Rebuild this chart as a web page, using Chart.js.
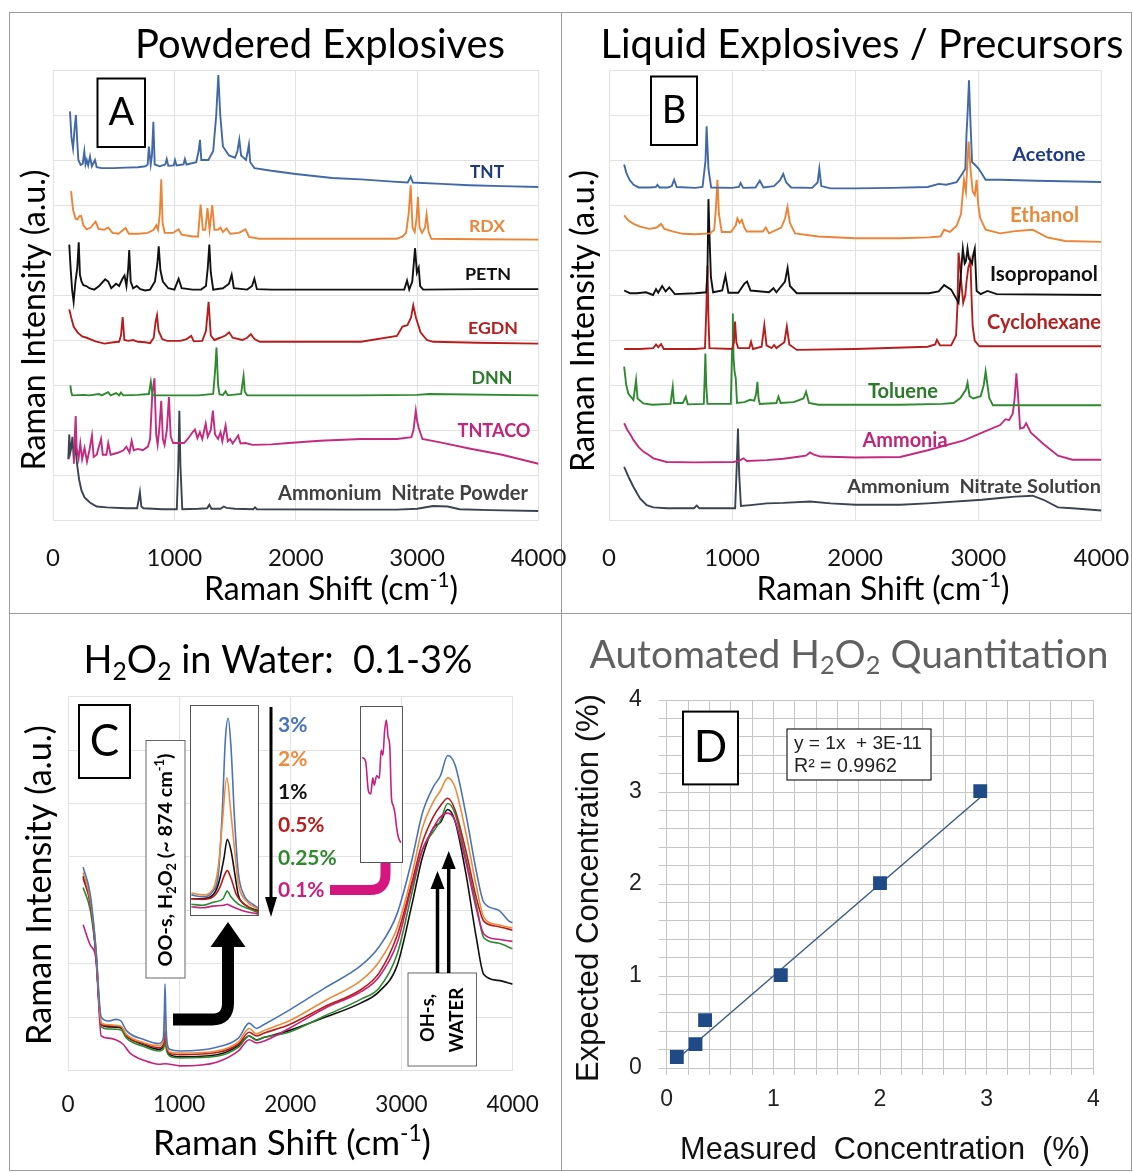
<!DOCTYPE html>
<html><head><meta charset="utf-8">
<script src="https://cdn.jsdelivr.net/npm/chart.js@4.4.0/dist/chart.umd.min.js"></script>
<style>
html,body{margin:0;padding:0;background:#fff;}
#wrap{position:relative;width:1133px;height:1173px;overflow:hidden;background:#fff;}
canvas{position:absolute;}
.ln{position:absolute;background:#9c9c9c;}
</style></head><body>
<div id="wrap">
<div class="ln" style="left:9px;top:12px;width:1123px;height:1px"></div>
<div class="ln" style="left:9px;top:1170px;width:1123px;height:1px"></div>
<div class="ln" style="left:9px;top:12px;width:1px;height:1159px"></div>
<div class="ln" style="left:1131px;top:12px;width:1px;height:1159px"></div>
<div class="ln" style="left:561px;top:12px;width:1px;height:1159px"></div>
<div class="ln" style="left:9px;top:613px;width:1123px;height:1px"></div>
<canvas id="cA" width="575" height="613" style="left:0px;top:0px"></canvas>
<canvas id="cB" width="573" height="613" style="left:560px;top:0px"></canvas>
<canvas id="cC" width="575" height="560" style="left:0px;top:613px"></canvas>
<canvas id="cD" width="573" height="560" style="left:560px;top:613px"></canvas>
<canvas id="cI1" width="69" height="211" style="left:190px;top:705px"></canvas>
<canvas id="cI2" width="43" height="157" style="left:360px;top:706px"></canvas>
</div>
<script>
// ---------------- DATA ----------------
// Panel A : powdered explosives (Raman shift cm-1, offset intensity a.u.)
const xTicksRaman = [0, 1000, 2000, 3000, 4000];
const TNT = [[140,9.08],[152,8.5],[165,8.26],[178,8.7],[189,9.0],[200,8.4],[209,8.0],[228,7.89],[245,7.92],[258,8.19],[268,7.9],[278,8.0],[290,7.88],[305,8.08],[320,7.86],[346,8.0],[360,7.84],[400,7.82],[500,7.82],[600,7.83],[700,7.84],[760,7.86],[780,7.9],[790,8.3],[805,7.9],[815,8.1],[827,8.85],[838,7.9],[880,7.86],[925,7.9],[937,8.02],[950,7.87],[995,7.88],[1005,8.0],[1018,7.88],[1075,7.9],[1087,8.02],[1100,7.9],[1180,7.95],[1200,8.2],[1211,8.45],[1222,8.0],[1280,8.0],[1320,8.2],[1345,9.0],[1362,9.89],[1378,9.0],[1400,8.3],[1450,8.1],[1500,8.05],[1520,8.2],[1535,8.45],[1550,8.1],[1590,8.0],[1605,8.2],[1614,8.34],[1625,7.95],[1660,7.82],[1800,7.76],[2000,7.69],[2300,7.6],[2537,7.57],[2800,7.52],[2923,7.5],[2947,7.63],[2965,7.5],[3200,7.47],[3429,7.44],[3700,7.42],[4000,7.40]];
const RDX = [[149,7.31],[165,6.9],[185,6.7],[202,6.68],[215,6.75],[232,6.76],[250,6.55],[277,6.46],[310,6.5],[351,6.63],[375,6.47],[420,6.45],[455,6.5],[490,6.38],[540,6.36],[598,6.49],[625,6.36],[700,6.36],[780,6.38],[830,6.45],[851,6.55],[865,6.45],[880,6.8],[892,7.57],[903,6.6],[920,6.38],[990,6.38],[1035,6.46],[1060,6.34],[1150,6.3],[1195,6.3],[1216,7.01],[1235,6.45],[1255,6.45],[1273,6.93],[1290,6.45],[1312,7.0],[1330,6.45],[1360,6.45],[1380,6.5],[1400,6.4],[1430,6.48],[1460,6.36],[1530,6.38],[1560,6.42],[1585,6.46],[1600,6.38],[1615,6.29],[1700,6.25],[1942,6.25],[2500,6.25],[2834,6.25],[2880,6.3],[2909,6.38],[2930,6.8],[2947,7.44],[2962,6.5],[2980,6.4],[2995,6.7],[3007,7.18],[3020,6.5],[3040,6.38],[3065,6.5],[3078,6.79],[3095,6.4],[3117,6.25],[3500,6.24],[4000,6.23]];
const PETN = [[134,6.12],[145,5.6],[158,5.1],[170,4.85],[185,5.3],[200,5.6],[212,6.17],[222,5.45],[235,5.3],[250,5.22],[275,5.2],[300,5.15],[340,5.12],[380,5.2],[430,5.35],[455,5.3],[480,5.15],[520,5.25],[545,5.2],[570,5.35],[589,5.43],[605,5.2],[620,5.6],[628,6.0],[640,5.3],[660,5.15],[690,5.2],[720,5.13],[760,5.1],[800,5.12],[840,5.3],[860,5.7],[871,6.08],[885,5.55],[905,5.3],[950,5.15],[1000,5.12],[1035,5.36],[1060,5.15],[1150,5.12],[1220,5.12],[1260,5.2],[1275,5.6],[1288,6.12],[1300,5.5],[1320,5.12],[1400,5.15],[1450,5.25],[1472,5.45],[1490,5.15],[1600,5.12],[1640,5.2],[1659,5.36],[1680,5.13],[1800,5.12],[2239,5.12],[2600,5.12],[2894,5.12],[2917,5.32],[2935,5.12],[2960,5.3],[2983,6.04],[2998,5.5],[3013,5.61],[3025,5.2],[3050,5.12],[3500,5.13],[4000,5.13]];
const EGDN = [[134,4.68],[150,4.5],[170,4.3],[202,4.17],[240,4.08],[277,4.05],[350,3.97],[425,3.92],[500,3.95],[544,3.96],[560,4.1],[574,4.51],[588,4.0],[620,3.98],[660,4.0],[700,3.96],[760,3.95],[800,3.93],[830,4.05],[845,4.4],[857,4.55],[870,4.2],[900,4.02],[940,3.98],[1000,3.98],[1050,3.98],[1100,4.02],[1139,4.09],[1160,3.97],[1230,3.98],[1260,4.2],[1282,4.85],[1300,4.1],[1330,4.0],[1377,4.05],[1420,4.1],[1451,4.17],[1480,4.05],[1560,4.0],[1600,4.05],[1630,4.13],[1660,4.02],[1704,3.96],[2000,3.96],[2537,3.96],[2834,4.09],[2879,4.3],[2920,4.33],[2950,4.5],[2968,4.77],[2990,4.5],[3028,4.17],[3080,4.0],[3132,3.96],[3500,3.94],[4000,3.92]];
const DNN = [[143,2.99],[150,2.85],[158,2.77],[250,2.78],[300,2.77],[380,2.8],[400,2.77],[455,2.84],[475,2.77],[520,2.82],[545,2.77],[560,2.83],[580,2.77],[700,2.78],[790,2.8],[806,3.07],[820,2.77],[1000,2.77],[1200,2.77],[1320,2.8],[1335,3.3],[1347,3.83],[1360,3.0],[1372,2.79],[1400,2.78],[1422,2.86],[1440,2.77],[1550,2.8],[1562,3.05],[1570,3.2],[1580,2.85],[1600,2.77],[2500,2.77],[3000,2.78],[3100,2.8],[4000,2.77]];
const TNTACO = [[172,1.25],[180,1.9],[187,2.31],[195,1.6],[211,1.37],[225,1.7],[240,1.35],[260,1.6],[280,1.3],[300,1.55],[321,1.88],[335,1.4],[360,1.45],[380,1.65],[396,1.8],[410,1.45],[440,1.45],[455,1.71],[475,1.45],[540,1.5],[580,1.55],[604,1.63],[630,1.5],[648,1.76],[665,1.55],[700,1.58],[740,1.55],[782,1.63],[800,1.8],[818,2.8],[836,3.15],[850,1.9],[862,1.67],[875,2.0],[892,2.65],[905,1.8],[919,1.67],[938,2.0],[955,2.73],[970,1.85],[990,1.71],[1080,1.71],[1110,1.8],[1150,1.95],[1169,2.01],[1190,1.82],[1210,1.95],[1230,1.8],[1258,2.14],[1275,1.85],[1300,2.0],[1317,2.43],[1335,1.9],[1360,1.8],[1380,1.95],[1395,1.75],[1422,2.1],[1440,1.75],[1460,1.8],[1480,1.7],[1526,1.88],[1545,1.7],[1585,1.71],[1645,1.67],[1800,1.68],[1942,1.71],[2200,1.76],[2537,1.8],[2834,1.8],[2953,1.84],[2970,2.0],[2989,2.43],[3000,2.2],[3013,2.05],[3043,1.8],[3200,1.72],[3429,1.59],[3700,1.45],[4000,1.25]];
const AN_POWDER = [[126,1.35],[134,1.9],[142,1.5],[150,1.6],[160,1.85],[170,1.4],[185,1.6],[200,1.2],[215,0.9],[235,0.65],[260,0.5],[304,0.39],[360,0.3],[442,0.28],[600,0.26],[693,0.26],[706,0.45],[716,0.62],[728,0.3],[745,0.26],[900,0.24],[1020,0.24],[1032,1.2],[1041,2.43],[1050,1.2],[1065,0.24],[1200,0.25],[1270,0.26],[1288,0.34],[1305,0.25],[1380,0.25],[1407,0.3],[1430,0.27],[1500,0.25],[1650,0.24],[1665,0.28],[1680,0.24],[2500,0.23],[2834,0.23],[3000,0.25],[3132,0.31],[3251,0.3],[3350,0.24],[3600,0.22],[4000,0.2]];

// Panel B : liquid explosives / precursors
const ACETONE = [[123,7.9],[140,7.72],[167,7.56],[200,7.45],[241,7.39],[330,7.39],[380,7.4],[394,7.45],[410,7.39],[480,7.39],[510,7.42],[529,7.56],[550,7.4],[700,7.38],[760,7.4],[784,7.98],[793,8.75],[808,7.81],[830,7.39],[1000,7.38],[1055,7.4],[1069,7.49],[1090,7.38],[1190,7.39],[1225,7.54],[1255,7.39],[1340,7.42],[1390,7.55],[1416,7.69],[1440,7.5],[1480,7.39],[1650,7.38],[1695,7.5],[1709,7.81],[1725,7.42],[1800,7.37],[2003,7.37],[2300,7.38],[2590,7.4],[2679,7.47],[2740,7.45],[2825,7.51],[2869,7.69],[2895,7.8],[2905,8.6],[2913,9.0],[2925,9.77],[2937,8.83],[2950,7.95],[2972,7.9],[3002,7.81],[3031,7.69],[3060,7.56],[3178,7.56],[3472,7.54],[4000,7.51]];
const ETHANOL = [[123,6.77],[160,6.65],[200,6.58],[252,6.52],[330,6.47],[388,6.5],[423,6.58],[450,6.47],[523,6.41],[600,6.36],[700,6.35],[821,6.37],[855,6.45],[868,6.9],[881,7.56],[893,6.8],[916,6.4],[990,6.4],[1030,6.55],[1043,6.7],[1060,6.6],[1079,6.67],[1100,6.5],[1119,6.41],[1250,6.41],[1274,6.5],[1300,6.37],[1400,6.5],[1430,6.7],[1450,6.96],[1470,6.6],[1512,6.37],[1700,6.3],[2000,6.26],[2366,6.26],[2600,6.28],[2693,6.3],[2723,6.45],[2770,6.4],[2825,6.54],[2860,6.8],[2884,7.56],[2900,7.3],[2913,7.98],[2922,8.41],[2937,7.8],[2955,7.3],[2972,7.22],[2987,7.56],[3000,7.0],[3016,6.71],[3060,6.45],[3178,6.37],[3300,6.42],[3442,6.45],[3560,6.28],[3707,6.2],[4000,6.18]];
const ISOPROPANOL = [[123,5.1],[170,5.04],[225,5.04],[300,5.06],[358,5.0],[382,5.13],[400,5.05],[432,5.2],[460,5.08],[490,5.17],[535,5.02],[700,5.04],[790,5.06],[800,5.5],[808,7.13],[818,6.2],[828,5.4],[846,5.06],[920,5.1],[946,5.43],[970,5.05],[1050,5.05],[1100,5.25],[1122,5.3],[1150,5.1],[1300,5.06],[1336,5.15],[1360,5.06],[1430,5.3],[1451,5.6],[1470,5.2],[1526,5.04],[2000,5.04],[2600,5.04],[2679,5.08],[2723,5.22],[2780,5.12],[2840,4.83],[2860,5.5],[2875,6.03],[2890,5.7],[2900,5.75],[2913,6.03],[2925,5.8],[2937,5.77],[2950,5.7],[2960,5.9],[2972,6.03],[2987,5.09],[3020,5.02],[3075,5.09],[3150,5.02],[4000,5.0]];
const CYCLOHEXANE = [[123,3.8],[250,3.8],[360,3.82],[382,3.9],[400,3.84],[423,3.91],[445,3.8],[700,3.8],[780,3.82],[790,4.6],[800,5.65],[808,4.5],[816,3.82],[1000,3.8],[1015,3.95],[1024,4.41],[1035,3.95],[1050,3.82],[1140,3.82],[1154,3.96],[1170,3.8],[1240,3.85],[1262,4.33],[1280,3.88],[1320,3.82],[1342,3.89],[1360,3.82],[1425,3.95],[1445,4.3],[1465,3.9],[1526,3.78],[2000,3.8],[2590,3.85],[2650,3.9],[2664,4.0],[2690,3.88],[2780,3.88],[2820,4.1],[2831,4.75],[2840,5.94],[2850,5.7],[2865,5.2],[2878,4.83],[2895,5.0],[2905,5.3],[2919,5.6],[2937,5.77],[2945,5.0],[2955,4.3],[2972,3.98],[3010,3.86],[4000,3.86]];
const TOLUENE = [[123,3.41],[140,3.0],[157,2.81],[198,2.67],[210,2.9],[220,3.11],[232,2.7],[279,2.59],[350,2.56],[500,2.58],[510,2.8],[518,2.96],[528,2.6],[600,2.6],[624,2.74],[640,2.57],[770,2.58],[778,3.2],[783,3.7],[790,3.0],[800,2.58],[990,2.58],[1000,3.8],[1006,4.59],[1012,3.6],[1020,3.3],[1030,3.15],[1040,2.6],[1100,2.62],[1146,2.67],[1180,2.65],[1195,2.8],[1206,3.07],[1215,2.7],[1225,2.58],[1360,2.6],[1377,2.74],[1395,2.6],[1500,2.62],[1580,2.7],[1601,2.85],[1625,2.6],[1700,2.56],[2366,2.56],[2708,2.58],[2800,2.6],[2855,2.71],[2900,2.9],[2913,3.05],[2930,2.75],[2960,2.7],[3020,2.75],[3045,3.0],[3060,3.3],[3075,3.0],[3090,2.71],[3119,2.55],[4000,2.55]];
const AMMONIA = [[123,2.15],[150,2.0],[182,1.86],[198,1.78],[241,1.62],[279,1.52],[320,1.45],[361,1.37],[469,1.29],[700,1.28],[1010,1.29],[1060,1.32],[1092,1.37],[1120,1.31],[1282,1.33],[1416,1.36],[1553,1.41],[1600,1.43],[1634,1.5],[1660,1.46],[1716,1.41],[2003,1.39],[2366,1.4],[2590,1.55],[2884,1.77],[3031,1.94],[3178,2.11],[3222,2.24],[3251,2.22],[3281,2.37],[3296,2.71],[3310,3.26],[3325,2.71],[3340,2.03],[3369,2.05],[3389,2.15],[3428,1.94],[3530,1.69],[3648,1.43],[3765,1.34],[4000,1.34]];
const AN_SOLUTION = [[123,1.18],[160,0.95],[198,0.74],[252,0.48],[306,0.33],[360,0.28],[469,0.26],[690,0.26],[713,0.32],[735,0.26],[1025,0.26],[1038,1.2],[1048,2.03],[1058,1.0],[1072,0.31],[1150,0.33],[1282,0.37],[1416,0.38],[1634,0.41],[1800,0.37],[2003,0.34],[2366,0.34],[2590,0.37],[3031,0.45],[3178,0.49],[3300,0.52],[3442,0.54],[3530,0.45],[3648,0.28],[3765,0.26],[4000,0.21]];

// Panel C : H2O2 in water, 0.1-3 %
const H2O2_3 = [[136,3.81],[201,3.29],[250,2.32],[299,1.0],[364,0.93],[429,0.96],[477,0.93],[526,0.75],[688,0.58],[818,0.51],[857,0.6],[866,1.0],[873,1.62],[880,1.0],[890,0.55],[916,0.4],[1013,0.37],[1338,0.44],[1533,0.61],[1630,0.89],[1695,0.79],[1760,0.86],[1987,1.13],[2312,1.55],[2637,1.97],[2799,2.32],[2961,2.94],[3091,3.92],[3188,4.82],[3286,5.31],[3351,5.52],[3416,5.9],[3481,5.73],[3578,4.82],[3676,3.71],[3741,3.15],[3870,3.01],[3968,2.8],[4000,2.77]];
const H2O2_2 = [[136,3.71],[201,3.2],[250,2.32],[299,0.89],[364,0.86],[477,0.83],[526,0.68],[688,0.52],[818,0.47],[857,0.55],[866,0.85],[873,1.24],[880,0.8],[890,0.5],[916,0.35],[1013,0.33],[1338,0.37],[1533,0.54],[1630,0.79],[1695,0.69],[1760,0.75],[1987,0.93],[2312,1.31],[2637,1.69],[2799,2.04],[2961,2.67],[3091,3.64],[3188,4.54],[3286,5.03],[3351,5.24],[3416,5.48],[3481,5.31],[3578,4.47],[3676,3.43],[3741,2.87],[3870,2.73],[4000,2.67]];
const H2O2_1 = [[136,3.64],[201,3.15],[250,2.2],[299,0.86],[364,0.82],[477,0.8],[526,0.65],[688,0.48],[818,0.4],[857,0.45],[873,0.75],[890,0.4],[916,0.3],[1013,0.26],[1338,0.3],[1533,0.47],[1630,0.65],[1695,0.58],[1760,0.62],[1987,0.75],[2312,1.0],[2637,1.27],[2799,1.48],[2961,1.97],[3091,3.08],[3188,3.99],[3286,4.54],[3351,4.65],[3416,4.89],[3481,4.68],[3578,3.71],[3676,2.46],[3741,1.8],[3870,1.69],[4000,1.62]];
const H2O2_05 = [[136,3.6],[201,3.12],[250,2.25],[299,0.87],[364,0.84],[477,0.82],[526,0.66],[688,0.5],[818,0.43],[857,0.48],[873,0.65],[890,0.42],[916,0.32],[1013,0.3],[1338,0.34],[1533,0.5],[1630,0.72],[1695,0.65],[1760,0.7],[1987,0.86],[2312,1.2],[2637,1.52],[2799,1.83],[2961,2.53],[3091,3.5],[3188,4.27],[3286,4.75],[3351,4.96],[3416,5.1],[3481,4.89],[3578,4.13],[3676,3.22],[3741,2.8],[3870,2.7],[4000,2.63]];
const H2O2_025 = [[136,3.43],[201,3.0],[250,2.2],[299,0.82],[364,0.78],[477,0.76],[526,0.61],[688,0.45],[818,0.37],[857,0.4],[873,0.51],[890,0.35],[916,0.27],[1013,0.24],[1338,0.27],[1533,0.44],[1630,0.65],[1695,0.57],[1760,0.62],[1987,0.72],[2312,1.03],[2637,1.34],[2799,1.55],[2961,2.18],[3091,3.3],[3188,4.13],[3286,4.47],[3351,4.68],[3416,5.0],[3481,4.82],[3578,3.99],[3676,3.08],[3741,2.49],[3870,2.39],[4000,2.28]];
const H2O2_01 = [[136,2.73],[201,2.35],[250,2.11],[299,0.65],[364,0.61],[429,0.58],[494,0.5],[558,0.33],[688,0.19],[818,0.12],[873,0.13],[1013,0.09],[1338,0.16],[1533,0.37],[1630,0.58],[1695,0.52],[1760,0.55],[1987,0.79],[2312,1.17],[2637,1.48],[2799,1.76],[2961,2.39],[3091,3.43],[3188,4.13],[3286,4.54],[3351,4.75],[3416,4.82],[3481,4.68],[3578,3.92],[3676,3.01],[3741,2.56],[3870,2.46],[4000,2.42]];
// inset: OO-stretch peak (~874 cm-1), relative intensity 0-100
const PEAK_3 = [[798,10],[822,9.1],[845,11.8],[857,20.6],[865,48.8],[872,84],[878,93.7],[884,80.5],[892,45.3],[900,20.6],[912,10],[931,5.6],[943,3.9]];
const PEAK_2 = [[798,10.9],[822,10],[845,12.7],[857,24.1],[865,43.5],[875,65.5],[884,48.8],[892,31.2],[900,15.3],[916,7.4],[943,3.3]];
const PEAK_1 = [[798,8.2],[822,8.2],[845,10],[857,15.3],[869,27.6],[876,36.4],[884,31.2],[892,20.6],[900,10],[916,5.1],[943,2.6]];
const PEAK_05 = [[798,8.2],[822,7.9],[845,9.1],[860,13.6],[869,18.9],[876,21.5],[884,18],[896,10],[916,5.1],[943,2.1]];
const PEAK_025 = [[798,5.6],[822,5.1],[845,6.5],[867,8.2],[876,11.8],[884,9.1],[900,5.6],[924,3.3],[943,1.6]];
const PEAK_01 = [[798,4.4],[822,3.9],[845,4.7],[869,5.1],[876,5.6],[884,4.7],[908,2.6],[943,0.9]];
// inset: 0.1 % peak magnified
const PEAK_01_ZOOM = [[841.6,67.3],[847.6,65],[852.4,46],[856.5,44],[860,54.3],[862.4,49.6],[866.7,55.5],[871.3,54],[874.4,72],[877.4,68.5],[880.3,83.9],[883.3,91],[886.3,80.4],[889.2,74.5],[892.2,41.3],[895.1,36.6],[898.1,31.8],[901.1,22.4],[904,16.4],[908.2,12.9]];

// Panel D : automated quantitation
const measuredConc = [0.095, 0.27, 0.36, 1.07, 2.0, 2.94];
const expectedConc = [0.12, 0.26, 0.52, 1.01, 2.01, 3.01];
const trendX = [0.095, 2.94];
const trendY = [0.095, 2.94];

// ---------------- HELPERS ----------------
const SANS = 'Lato, "Open Sans", sans-serif';
const ARIAL = '"Liberation Sans", Arial, sans-serif';
const GRID = '#e2e2e2';
function pts(a){ return a.map(p => ({x:p[0], y:p[1]})); }
function parseRich(s){
  const out = [];
  s.split(/(_\{[^}]*\}|\^\{[^}]*\})/).forEach(part => {
    if (!part) return;
    if (part.startsWith('_{')) out.push({t:part.slice(2,-1), k:'sub'});
    else if (part.startsWith('^{')) out.push({t:part.slice(2,-1), k:'sup'});
    else out.push({t:part});
  });
  return out;
}
function drawText(ctx, it){
  const segs = parseRich(it.t);
  const fam = it.f || SANS, wt = it.b ? 'bold' : 'normal';
  let size = it.s || 20;
  const meas = sz => { let w = 0; segs.forEach(g => { ctx.font = wt + ' ' + (g.k ? sz*0.65 : sz) + 'px ' + fam; w += ctx.measureText(g.t).width; }); return w; };
  if (it.w) size = size * it.w / meas(size);
  const total = meas(size);
  ctx.save();
  ctx.translate(it.x, it.y);
  if (it.r) ctx.rotate(it.r * Math.PI / 180);
  ctx.fillStyle = it.c || '#000';
  ctx.textBaseline = 'middle'; ctx.textAlign = 'left';
  let x = it.a === 'left' ? 0 : (it.a === 'right' ? -total : -total/2);
  segs.forEach(g => {
    const sz = g.k ? size*0.65 : size;
    ctx.font = wt + ' ' + sz + 'px ' + fam;
    const dy = g.k === 'sub' ? size*0.28 : (g.k === 'sup' ? -size*0.3 : 0);
    ctx.fillText(g.t, x, dy);
    x += ctx.measureText(g.t).width;
  });
  ctx.restore();
}
function box(ctx, x1, y1, x2, y2, lw, col, fill){
  ctx.save();
  if (fill){ ctx.fillStyle = fill; ctx.fillRect(x1, y1, x2-x1, y2-y1); }
  ctx.strokeStyle = col; ctx.lineWidth = lw; ctx.strokeRect(x1, y1, x2-x1, y2-y1);
  ctx.restore();
}
function tri(ctx, x, tipY, baseY, hw, col){
  ctx.beginPath(); ctx.moveTo(x, tipY); ctx.lineTo(x-hw, baseY); ctx.lineTo(x+hw, baseY); ctx.closePath();
  ctx.fillStyle = col; ctx.fill();
}
const numLabel = v => String(v);

function makeSpectra(cfg){
  const {id, ox, oy, W, H, area, series, yMax, tickSize, tickGap, lw, smooth, draw} = cfg;
  return new Chart(document.getElementById(id), {
    type: 'scatter',
    data: { datasets: series.map(s => ({ data: pts(s.d), borderColor: s.c, backgroundColor: s.c, borderWidth: lw, pointRadius: 0, pointHoverRadius: 0, showLine: true,
      tension: smooth ? 0.4 : 0, cubicInterpolationMode: smooth ? 'monotone' : 'default' })) },
    options: {
      responsive: false, animation: false, devicePixelRatio: 1, events: [],
      layout: { autoPadding: false, padding: { left: 0, top: area.top - oy, right: ox + W - area.right, bottom: 0 } },
      plugins: { legend: { display: false }, tooltip: { enabled: false } },
      scales: {
        x: { type: 'linear', position: 'bottom', min: xTicksRaman[0], max: xTicksRaman[xTicksRaman.length-1],
             afterBuildTicks: s => { s.ticks = xTicksRaman.map(v => ({value: v})); },
             ticks: { autoSkip: false, maxRotation: 0, color: '#151515', padding: 0, font: { family: SANS, size: tickSize }, callback: numLabel },
             grid: { color: GRID, drawTicks: true, tickLength: tickGap, tickColor: 'rgba(0,0,0,0)' }, border: { color: GRID },
             afterFit: s => { s.height = oy + H - area.bottom; } },
        y: { type: 'linear', position: 'left', min: 0, max: yMax,
             ticks: { display: false, stepSize: 1 },
             grid: { color: GRID, drawTicks: false }, border: { color: GRID },
             afterFit: s => { s.width = area.left - ox; } }
      }
    },
    plugins: [{ id: 'deco', afterDraw(chart){ const c = chart.ctx; c.save(); c.translate(-ox, -oy); draw(c); c.restore(); } }]
  });
}

// ---------------- PANEL A ----------------
makeSpectra({
  id: 'cA', ox: 0, oy: 0, W: 575, H: 613, area: {left: 53, right: 538.5, top: 70, bottom: 520},
  yMax: 10, tickSize: 24, tickGap: 24, lw: 1.9,
  series: [
    {d: TNT, c: '#4169A8'}, {d: RDX, c: '#EC8437'}, {d: PETN, c: '#111111'}, {d: EGDN, c: '#B81D1D'},
    {d: DNN, c: '#2F8A2F'}, {d: TNTACO, c: '#C42A7E'}, {d: AN_POWDER, c: '#3B4250'}
  ],
  draw: ctx => {
    drawText(ctx, {t: 'Powdered Explosives', x: 320, y: 45, w: 370});
    drawText(ctx, {t: 'Raman Intensity (a.u.)', x: 35, y: 320, w: 301, r: -90});
    drawText(ctx, {t: 'Raman Shift (cm^{-1})', x: 331, y: 590, w: 254});
    box(ctx, 97.5, 78.5, 145, 147, 2, '#000', '#fff');
    drawText(ctx, {t: 'A', x: 121.3, y: 113, s: 38});
    const L = [['TNT', 487, 172, 34, '#1F3A7A'], ['RDX', 487, 226, 36, '#E8883E'], ['PETN', 488, 274, 46, '#111'],
               ['EGDN', 493, 328, 50, '#B22020'], ['DNN', 492, 378, 41, '#2A7A2A'], ['TNTACO', 494, 431, 73, '#C0267A'],
               ['Ammonium  Nitrate Powder', 403, 494, 250, '#404040']];
    L.forEach(l => drawText(ctx, {t: l[0], x: l[1], y: l[2], w: l[3], c: l[4], b: true}));
  }
});

// ---------------- PANEL B ----------------
makeSpectra({
  id: 'cB', ox: 560, oy: 0, W: 573, H: 613, area: {left: 609, right: 1101.3, top: 70, bottom: 520},
  yMax: 10, tickSize: 24, tickGap: 24, lw: 1.9,
  series: [
    {d: ACETONE, c: '#4169A8'}, {d: ETHANOL, c: '#EC8437'}, {d: ISOPROPANOL, c: '#111111'}, {d: CYCLOHEXANE, c: '#B81D1D'},
    {d: TOLUENE, c: '#2F8A2F'}, {d: AMMONIA, c: '#C42A7E'}, {d: AN_SOLUTION, c: '#3B4250'}
  ],
  draw: ctx => {
    drawText(ctx, {t: 'Liquid Explosives / Precursors', x: 862, y: 45, w: 523});
    drawText(ctx, {t: 'Raman Intensity (a.u.)', x: 584, y: 321, w: 302, r: -90});
    drawText(ctx, {t: 'Raman Shift (cm^{-1})', x: 883, y: 590, w: 253});
    box(ctx, 651, 76.5, 697, 145, 2, '#000', '#fff');
    drawText(ctx, {t: 'B', x: 674, y: 111, s: 38});
    const L = [['Acetone', 1049, 155, 73, '#1F3A8A'], ['Ethanol', 1044.5, 215, 69, '#E8893B'], ['Isopropanol', 1044, 274, 108, '#111'],
               ['Cyclohexane', 1044, 323, 114, '#B22222'], ['Toluene', 903, 392, 70, '#2A7A2A'], ['Ammonia', 905, 441, 85, '#C0267A'],
               ['Ammonium  Nitrate Solution', 974, 487, 254, '#404040']];
    L.forEach(l => drawText(ctx, {t: l[0], x: l[1], y: l[2], w: l[3], c: l[4], b: true}));
  }
});

// ---------------- PANEL C ----------------
const C_COL = {c3: '#4A74B8', c2: '#EE8A3C', c1: '#111111', c05: '#B81D1D', c025: '#2F8A2F', c01: '#C8207C'};
makeSpectra({
  id: 'cC', ox: 0, oy: 613, W: 575, H: 560, area: {left: 68, right: 512.6, top: 696.7, bottom: 1070.7},
  yMax: 7, tickSize: 22.5, tickGap: 21, lw: 1.6, smooth: true,
  series: [
    {d: H2O2_3, c: C_COL.c3}, {d: H2O2_2, c: C_COL.c2}, {d: H2O2_05, c: C_COL.c05},
    {d: H2O2_01, c: C_COL.c01}, {d: H2O2_025, c: C_COL.c025}, {d: H2O2_1, c: C_COL.c1}
  ],
  draw: ctx => {
    drawText(ctx, {t: 'H_{2}O_{2} in Water:  0.1-3%', x: 278, y: 661, w: 389});
    drawText(ctx, {t: 'Raman Intensity (a.u.)', x: 40, y: 885, w: 320, r: -90});
    drawText(ctx, {t: 'Raman Shift (cm^{-1})', x: 292, y: 1144, w: 278});
    box(ctx, 79, 705, 130, 778, 2, '#000', '#fff');
    drawText(ctx, {t: 'C', x: 104.5, y: 741.5, s: 44});
    box(ctx, 146, 740.5, 185, 978, 1, '#666', '#fff');
    drawText(ctx, {t: 'OO-s, H_{2}O_{2} (~ 874 cm^{-1})', x: 166, y: 860, w: 213, r: -90, b: true});
    box(ctx, 408, 973, 476.5, 1066, 1, '#666', '#fff');
    drawText(ctx, {t: 'OH-s,', x: 428, y: 1018, w: 48, r: -90, b: true});
    drawText(ctx, {t: 'WATER', x: 457, y: 1020, w: 65, r: -90, b: true});
    const L = [['3%', 725, C_COL.c3], ['2%', 759, C_COL.c2], ['1%', 792, C_COL.c1], ['0.5%', 825, C_COL.c05], ['0.25%', 858, C_COL.c025], ['0.1%', 890, C_COL.c01]];
    L.forEach(l => drawText(ctx, {t: l[0], x: 278, y: l[1], s: 21, c: l[2], b: true, a: 'left'}));
    // arrows
    ctx.save();
    ctx.lineCap = 'butt'; ctx.lineJoin = 'round';
    ctx.strokeStyle = '#000'; ctx.lineWidth = 12;
    ctx.beginPath(); ctx.moveTo(173, 1019.5); ctx.lineTo(212, 1019.5); ctx.quadraticCurveTo(228, 1019.5, 228, 1003); ctx.lineTo(228, 945); ctx.stroke();
    tri(ctx, 228, 922, 947, 17.5, '#000');
    ctx.strokeStyle = '#D6157F'; ctx.lineWidth = 10;
    ctx.beginPath(); ctx.moveTo(330, 890); ctx.lineTo(370, 890); ctx.quadraticCurveTo(385.5, 890, 385.5, 874); ctx.lineTo(385.5, 847); ctx.stroke();
    tri(ctx, 385.5, 826.5, 849, 15.5, '#D6157F');
    ctx.strokeStyle = '#000'; ctx.lineWidth = 3;
    ctx.beginPath(); ctx.moveTo(271, 707); ctx.lineTo(271, 902); ctx.stroke();
    tri(ctx, 271, 917, 897, 6, '#000');
    ctx.lineWidth = 3.5;
    ctx.beginPath(); ctx.moveTo(437.5, 973); ctx.lineTo(437.5, 886); ctx.stroke();
    tri(ctx, 437.5, 871, 889, 7, '#000');
    ctx.beginPath(); ctx.moveTo(448.7, 973); ctx.lineTo(448.7, 866); ctx.stroke();
    tri(ctx, 448.7, 851, 869, 7, '#000');
    ctx.restore();
  }
});

function makeInset(id, xr, series, lw){
  return new Chart(document.getElementById(id), {
    type: 'scatter',
    data: { datasets: series.map(s => ({ data: pts(s.d), borderColor: s.c, borderWidth: lw, pointRadius: 0, showLine: true, tension: 0.4, cubicInterpolationMode: 'monotone' })) },
    options: {
      responsive: false, animation: false, devicePixelRatio: 1, events: [],
      layout: { autoPadding: false, padding: 0 },
      plugins: { legend: { display: false }, tooltip: { enabled: false } },
      scales: { x: { display: false, min: xr[0], max: xr[1] }, y: { display: false, min: 0, max: 100 } }
    },
    plugins: [{ id: 'frame',
      beforeDraw(ch){ const c = ch.ctx; c.save(); c.fillStyle = '#fff'; c.fillRect(0, 0, ch.width, ch.height); c.restore(); },
      afterDraw(ch){ const c = ch.ctx; c.save(); c.strokeStyle = '#555'; c.lineWidth = 1; c.strokeRect(0.5, 0.5, ch.width-1, ch.height-1); c.restore(); } }]
  });
}
makeInset('cI1', [795, 945], [
  {d: PEAK_01, c: C_COL.c01}, {d: PEAK_025, c: C_COL.c025}, {d: PEAK_05, c: C_COL.c05},
  {d: PEAK_1, c: C_COL.c1}, {d: PEAK_2, c: C_COL.c2}, {d: PEAK_3, c: C_COL.c3}
], 1.6);
makeInset('cI2', [838, 912], [{d: PEAK_01_ZOOM, c: C_COL.c01}], 1.6);

// ---------------- PANEL D ----------------
(function(){
  const ox = 560, oy = 613, W = 573, H = 560;
  const area = {left: 666.7, right: 1093.3, top: 700, bottom: 1068};
  const DGRID = '#c6c6c6';
  const intOnly = v => Math.abs(v - Math.round(v)) < 1e-6 ? String(Math.round(v)) : '';
  new Chart(document.getElementById('cD'), {
    type: 'scatter',
    data: { datasets: [
      { data: measuredConc.map((m, i) => ({x: m, y: expectedConc[i]})), pointStyle: 'rect', pointRadius: 9.8, backgroundColor: '#1F4A86', borderColor: '#1F4A86', borderWidth: 0, showLine: false },
      { data: trendX.map((x, i) => ({x: x, y: trendY[i]})), showLine: true, pointRadius: 0, borderColor: '#3B5F86', borderWidth: 1.5 }
    ] },
    options: {
      responsive: false, animation: false, devicePixelRatio: 1, events: [],
      layout: { autoPadding: false, padding: { left: 0, top: area.top - oy, right: ox + W - area.right, bottom: 0 } },
      plugins: { legend: { display: false }, tooltip: { enabled: false } },
      scales: {
        x: { type: 'linear', min: 0, max: 4, ticks: { stepSize: 0.2, autoSkip: false, maxRotation: 0, color: '#222', padding: 11, font: { family: ARIAL, size: 23 }, callback: intOnly },
             grid: { color: DGRID, tickLength: 7, tickColor: DGRID }, border: { color: DGRID },
             afterFit: s => { s.height = oy + H - area.bottom; } },
        y: { type: 'linear', min: 0, max: 4, ticks: { stepSize: 0.2, autoSkip: false, color: '#222', padding: 17, font: { family: ARIAL, size: 23 }, callback: intOnly },
             grid: { color: DGRID, tickLength: 8, tickColor: DGRID }, border: { color: DGRID },
             afterFit: s => { s.width = area.left - ox; } }
      }
    },
    plugins: [{ id: 'decoD', afterDraw(chart){
      const ctx = chart.ctx; ctx.save(); ctx.translate(-ox, -oy);
      drawText(ctx, {t: 'Automated H_{2}O_{2} Quantitation', x: 849, y: 655, w: 519, c: '#606060'});
      drawText(ctx, {t: 'Expected Concentration (%)', x: 589.5, y: 888, w: 388, r: -90, f: ARIAL, c: '#111'});
      drawText(ctx, {t: 'Measured  Concentration  (%)', x: 885, y: 1151, w: 410, f: ARIAL, c: '#111'});
      box(ctx, 683, 711.6, 738, 784.4, 2, '#000', '#fff');
      drawText(ctx, {t: 'D', x: 710.5, y: 748, s: 44});
      box(ctx, 787, 729, 931, 780, 1.2, '#222', '#fff');
      drawText(ctx, {t: 'y = 1x  + 3E-11', x: 794, y: 744, w: 128, f: ARIAL, c: '#222', a: 'left'});
      drawText(ctx, {t: 'R² = 0.9962', x: 794, y: 766.5, w: 103, f: ARIAL, c: '#222', a: 'left'});
      ctx.restore();
    } }]
  });
})();
</script>
</body></html>
